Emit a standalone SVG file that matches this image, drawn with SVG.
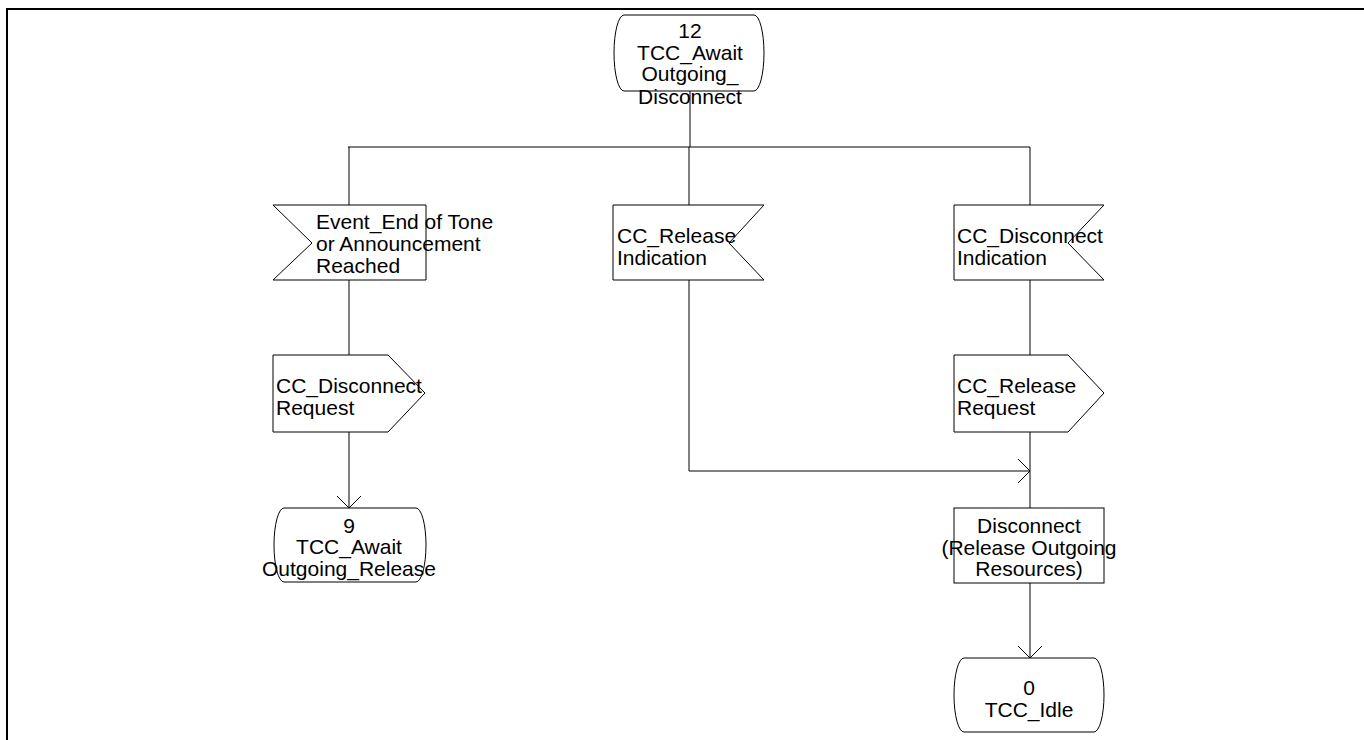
<svg xmlns="http://www.w3.org/2000/svg" width="1364" height="740" viewBox="0 0 1364 740">
<defs>
<style>
.shape{fill:#fff;stroke:#000;stroke-width:1}
.t{font-family:"Liberation Sans",Arial,sans-serif;font-size:21px;fill:#000}
.c{text-anchor:middle}
.ln{fill:none;stroke:#000;stroke-width:1}
</style>
<marker id="arr" viewBox="0 0 14 26" refX="13" refY="13" markerWidth="14" markerHeight="26" markerUnits="userSpaceOnUse" orient="auto">
<path d="M1,1 L13,13 L1,25" fill="none" stroke="#000" stroke-width="1"/>
</marker>
</defs>
<rect width="1364" height="740" fill="#fff"/>
<path d="M7,740 V9 H1364" fill="none" stroke="#000" stroke-width="2"/>

<g id="connectors">
<path class="ln" d="M690,91 V147"/>
<path class="ln" d="M348,147 H1030"/>
<path class="ln" d="M349,147 V205"/>
<path class="ln" d="M689,147 V205"/>
<path class="ln" d="M1030,147 V205"/>
<path class="ln" d="M349,280 V355"/>
<path class="ln" d="M349,432 V508" marker-end="url(#arr)"/>
<path class="ln" d="M689,280 V471 H1030" marker-end="url(#arr)"/>
<path class="ln" d="M1030,280 V355"/>
<path class="ln" d="M1030,432 V508"/>
<path class="ln" d="M1030,583 V658" marker-end="url(#arr)"/>
</g>

<g id="state12">
<path class="shape" d="M624,15 H754 A10 38 0 0 1 754,91 H624 A10 38 0 0 1 624,15 Z"/>
<text class="t c" x="690" y="38">12</text>
<text class="t c" x="690" y="60">TCC_Await</text>
<text class="t c" x="690" y="81">Outgoing_</text>
<text class="t c" x="690" y="104">Disconnect</text>
</g>

<g id="input_event">
<path class="shape" d="M273,205 H426 V280 H273 L312,243 Z"/>
<text class="t" x="316" y="229">Event_End of Tone</text>
<text class="t" x="316" y="251">or Announcement</text>
<text class="t" x="316" y="273">Reached</text>
</g>

<g id="input_release">
<path class="shape" d="M613,205 H764 L729,243 L764,280 H613 Z"/>
<text class="t" x="617" y="243">CC_Release</text>
<text class="t" x="617" y="265">Indication</text>
</g>

<g id="input_disconnect">
<path class="shape" d="M954,205 H1104 L1068,243 L1104,280 H954 Z"/>
<text class="t" x="957" y="243">CC_Disconnect</text>
<text class="t" x="957" y="265">Indication</text>
</g>

<g id="output_disconnect">
<path class="shape" d="M273,355 H388 L425,393 L388,432 H273 Z"/>
<text class="t" x="276" y="393">CC_Disconnect</text>
<text class="t" x="276" y="415">Request</text>
</g>

<g id="output_release">
<path class="shape" d="M954,355 H1068 L1104,393 L1068,432 H954 Z"/>
<text class="t" x="957" y="393">CC_Release</text>
<text class="t" x="957" y="415">Request</text>
</g>

<g id="state9">
<path class="shape" d="M284,508 H416 A10 37 0 0 1 416,582 H284 A10 37 0 0 1 284,508 Z"/>
<text class="t c" x="349" y="533">9</text>
<text class="t c" x="349" y="554">TCC_Await</text>
<text class="t c" x="349" y="576">Outgoing_Release</text>
</g>

<g id="task_disconnect">
<rect class="shape" x="954" y="508" width="150" height="75"/>
<text class="t c" x="1029" y="533">Disconnect</text>
<text class="t c" x="1029" y="555">(Release Outgoing</text>
<text class="t c" x="1029" y="576">Resources)</text>
</g>

<g id="state0">
<path class="shape" d="M964,658 H1094 A10 37 0 0 1 1094,732 H964 A10 37 0 0 1 964,658 Z"/>
<text class="t c" x="1029" y="695">0</text>
<text class="t c" x="1029" y="717">TCC_Idle</text>
</g>
</svg>
